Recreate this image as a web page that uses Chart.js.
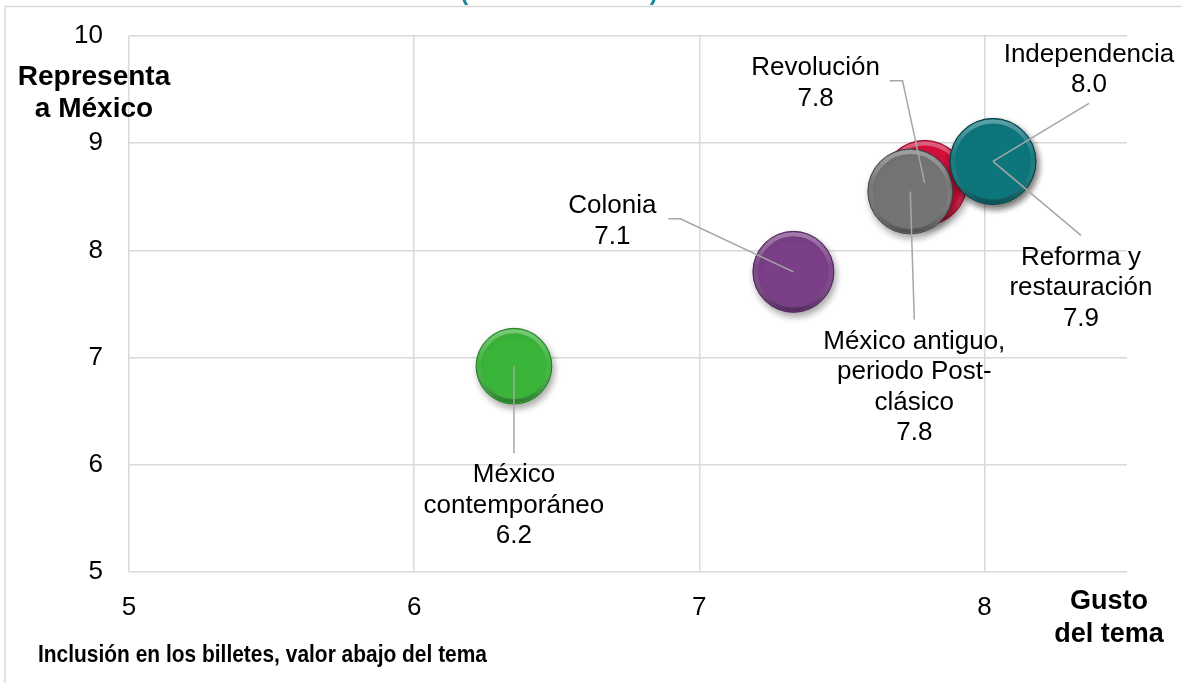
<!DOCTYPE html>
<html>
<head>
<meta charset="utf-8">
<script src="https://cdn.jsdelivr.net/npm/chart.js@4/dist/chart.umd.min.js"></script>
<style>
  body { margin: 0; background: #fff; }
  .chart-wrap { width: 1182px; height: 683px; position: relative; }
</style>
</head>
<body>
<div class="chart-wrap">
  <canvas id="Canvas" width="1182" height="683"></canvas>
</div>
<script>
const temas = ['México contemporáneo', 'Colonia', 'Revolución', 'México antiguo, periodo Post-clásico', 'Reforma y restauración', 'Independencia'];
const gusto = [6.35, 7.33, 7.79, 7.74, 8.03, 8.03];
const representa = [6.92, 7.80, 8.63, 8.55, 8.83, 8.83];
const inclusion = [6.2, 7.1, 7.8, 7.8, 7.9, 8.0];
const xTicks = [5, 6, 7, 8];
const yTicks = [5, 6, 7, 8, 9, 10];

const labelLines = [
    ['México', 'contemporáneo'],
    ['Colonia'],
    ['Revolución'],
    ['México antiguo,', 'periodo Post-', 'clásico'],
    ['Reforma y', 'restauración'],
    ['Independencia']
];
// label text anchor + leader path, px offsets from the bubble centre
const labelLayout = [
    { text: [0, 109], leader: [[0, 87]] },
    { text: [-181, -66], leader: [[-113, -53], [-125, -53]] },
    { text: [-109, -115], leader: [[-22, -102], [-35, -102]] },
    { text: [4, 150], leader: [[4, 128]] },
    { text: [88, 96], leader: [[88, 74]] },
    { text: [96, -107], leader: [[96, -58]] }
];
const fill = ['#3ab53a', '#7a3f87', '#d6123e', '#747474', '#b8860b', '#0d767d'];
const edge = ['#237a23', '#4e2358', '#8c0a26', '#454545', '#7a5a08', '#053f43'];

const FONT = "'Liberation Sans', Arial, sans-serif";
const maxSize = Math.max(...inclusion);

const frameAndTitles = {
    id: 'frameAndTitles',
    beforeDraw(chart) {
        const ctx = chart.ctx;
        ctx.save();
        ctx.strokeStyle = '#d9d9d9';
        ctx.lineWidth = 1.5;
        ctx.beginPath();
        ctx.moveTo(5, 683);
        ctx.lineTo(5, 6.5);
        ctx.lineTo(1182, 6.5);
        ctx.stroke();
        ctx.fillStyle = '#1a8a9a';
        ctx.font = 'bold 24px ' + FONT;
        ctx.textAlign = 'center';
        ctx.textBaseline = 'alphabetic';
        ctx.fillText('(escala de 1 a 10)', 559, 0);
        ctx.restore();
    },
    afterDraw(chart) {
        const ctx = chart.ctx;
        const a = chart.chartArea;
        ctx.save();
        ctx.fillStyle = '#000';
        ctx.textBaseline = 'middle';
        ctx.textAlign = 'center';
        ctx.font = 'bold 28px ' + FONT;
        ctx.fillText('Representa', a.left - 35, a.top + 41);
        ctx.fillText('a México', a.left - 35, a.top + 73);
        ctx.font = 'bold 27px ' + FONT;
        ctx.fillText('Gusto', a.right - 18, a.bottom + 30);
        ctx.fillText('del tema', a.right - 18, a.bottom + 63);
        // the x title is set narrow in the original
        const xt = 'Inclusión en los billetes, valor abajo del tema';
        ctx.font = 'bold 24px ' + FONT;
        const w = ctx.measureText(xt).width;
        ctx.textAlign = 'left';
        ctx.translate(38, a.bottom + 83);
        ctx.scale(449 / w, 1);
        ctx.fillText(xt, 0, 0);
        ctx.restore();
    }
};

const bubbleLook = {
    id: 'bubbleLook',
    beforeDatasetDraw(chart) {
        const ctx = chart.ctx;
        ctx.save();
        ctx.shadowColor = 'rgba(0,0,0,0.35)';
        ctx.shadowBlur = 7;
        ctx.shadowOffsetX = 2;
        ctx.shadowOffsetY = 4;
    },
    afterDatasetDraw(chart, args) {
        const ctx = chart.ctx;
        ctx.restore();
        args.meta.data.forEach(el => {
            const r = el.options.radius;
            const g = ctx.createLinearGradient(0, el.y - r, 0, el.y + r);
            g.addColorStop(0, 'rgba(255,255,255,0.35)');
            g.addColorStop(0.45, 'rgba(255,255,255,0.05)');
            g.addColorStop(1, 'rgba(0,0,0,0.35)');
            ctx.save();
            ctx.strokeStyle = g;
            ctx.lineWidth = 4;
            ctx.beginPath();
            ctx.arc(el.x, el.y, r - 3, 0, Math.PI * 2);
            ctx.stroke();
            ctx.restore();
        });
    }
};

const bubbleLabels = {
    id: 'bubbleLabels',
    afterDatasetsDraw(chart) {
        const ctx = chart.ctx;
        ctx.save();
        ctx.strokeStyle = '#a6a6a6';
        ctx.lineWidth = 1.5;
        temas.forEach((t, i) => {
            const el = chart.getDatasetMeta(i).data[0];
            ctx.beginPath();
            ctx.moveTo(el.x, el.y);
            labelLayout[i].leader.forEach(p => ctx.lineTo(el.x + p[0], el.y + p[1]));
            ctx.stroke();
        });
        ctx.fillStyle = '#000';
        ctx.font = '26px ' + FONT;
        ctx.textAlign = 'center';
        ctx.textBaseline = 'middle';
        temas.forEach((t, i) => {
            const el = chart.getDatasetMeta(i).data[0];
            const lines = labelLines[i].concat([inclusion[i].toFixed(1)]);
            const tx = el.x + labelLayout[i].text[0];
            const ty = el.y + labelLayout[i].text[1];
            lines.forEach((s, k) => ctx.fillText(s, tx, ty + k * 30.5));
        });
        ctx.restore();
    }
};

const datasets = temas.map((t, i) => ({
    label: t,
    data: [{ x: gusto[i], y: representa[i], r: 43 * Math.sqrt(inclusion[i] / maxSize) }],
    backgroundColor: fill[i],
    borderColor: edge[i],
    borderWidth: 1,
    order: temas.length - i,
    clip: false
}));

const ctx = document.getElementById('Canvas').getContext('2d');
const config = {
    type: 'bubble',
    data: { datasets: datasets },
    options: {
        responsive: false,
        animation: false,
        events: [],
        layout: { autoPadding: false, padding: { top: 36, right: 55, left: 0, bottom: 0 } },
        plugins: {
            legend: { display: false },
            tooltip: { enabled: false }
        },
        scales: {
            x: {
                type: 'linear',
                min: 5,
                max: 8.5,
                afterBuildTicks: s => { s.ticks = xTicks.map(v => ({ value: v })); },
                afterFit: s => { s.height = 111; },
                ticks: { color: '#000', font: { size: 26, family: FONT }, padding: 20, maxRotation: 0 },
                grid: { color: '#d9d9d9', lineWidth: 1.5, drawTicks: false },
                border: { display: false }
            },
            y: {
                type: 'linear',
                min: 5,
                max: 10,
                afterBuildTicks: s => { s.ticks = yTicks.map(v => ({ value: v })); },
                afterFit: s => { s.width = 129; s.paddingTop = 0; s.paddingBottom = 0; },
                ticks: { color: '#000', font: { size: 26, family: FONT }, padding: 26 },
                grid: { color: '#d9d9d9', lineWidth: 1.5, drawTicks: false },
                border: { display: false }
            }
        }
    },
    plugins: [frameAndTitles, bubbleLook, bubbleLabels]
};

new Chart(ctx, config);
</script>
</body>
</html>
